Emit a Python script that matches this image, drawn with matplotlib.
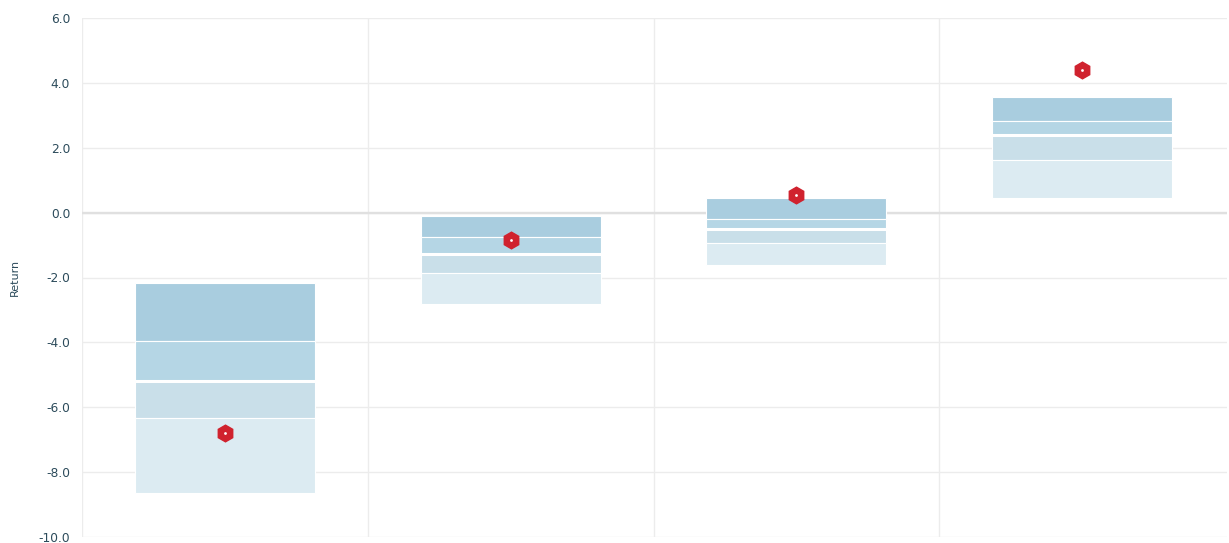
import matplotlib
matplotlib.use("Agg")
import matplotlib.pyplot as plt
import numpy as np

# Data
categories = ["A", "B", "C", "D"]
p95 = [-2.17, -0.10, 0.44, 3.55]
p75 = [-3.95, -0.74, -0.19, 2.83]
p50 = [-5.18, -1.28, -0.50, 2.39]
p25 = [-6.32, -1.86, -0.93, 1.62]
p05 = [-8.65, -2.82, -1.61, 0.44]
strategy = [-6.80, -0.84, 0.54, 4.39]
yticks = [-10, -8, -6, -4, -2, 0, 2, 4, 6]

band_colors = ["#a9cddf", "#b5d6e5", "#c9dfe9", "#dcebf2"]
text_color = "#2c4b5b"
grid_color = "#ececec"

fig = plt.figure(figsize=(12.29, 5.43), dpi=100)
ax = fig.add_axes([82 / 1229, 6 / 543, 1145 / 1229, 519 / 543])

n = len(categories)
x = np.arange(n) + 0.5
width = 0.63
p95a, p75a, p50a, p25a, p05a = map(np.array, (p95, p75, p50, p25, p05))
bands = [(p75a, p95a), (p50a, p75a), (p25a, p50a), (p05a, p25a)]
for (lo, hi), c in zip(bands, band_colors):
    ax.bar(x, hi - lo, bottom=lo, width=width, color=c, edgecolor="white",
           linewidth=0.8, zorder=2)
ax.hlines(p50a, x - width / 2, x + width / 2, colors="white", linewidth=2.2, zorder=3)

ax.plot(x, strategy, linestyle="none", marker="h", markersize=12,
        color="#d0222e", markeredgecolor="#d0222e", zorder=4)
ax.plot(x, strategy, linestyle="none", marker="o", markersize=2,
        color="white", markeredgewidth=0, zorder=5)

ax.set_xlim(0, n * 1145 / 1143)
ax.set_ylim(-10, 6)
ax.set_yticks(yticks)
ax.set_yticklabels([f"{v:.1f}" for v in yticks], fontsize=8.8, color=text_color)
ax.set_xticks(np.arange(n))
ax.set_xticklabels([])
ax.tick_params(axis="both", length=0, pad=8.5)
ax.grid(True, color=grid_color, linewidth=1.0, zorder=0)
ax.set_axisbelow(True)
ax.axhline(0, color="#e0e0e0", linewidth=1.7, zorder=1)
for s in ax.spines.values():
    s.set_visible(False)
ax.set_ylabel("Return", fontsize=8, color=text_color)
ax.yaxis.set_label_coords(-0.054, 0.5)

fig.savefig("out.png", dpi=100)
